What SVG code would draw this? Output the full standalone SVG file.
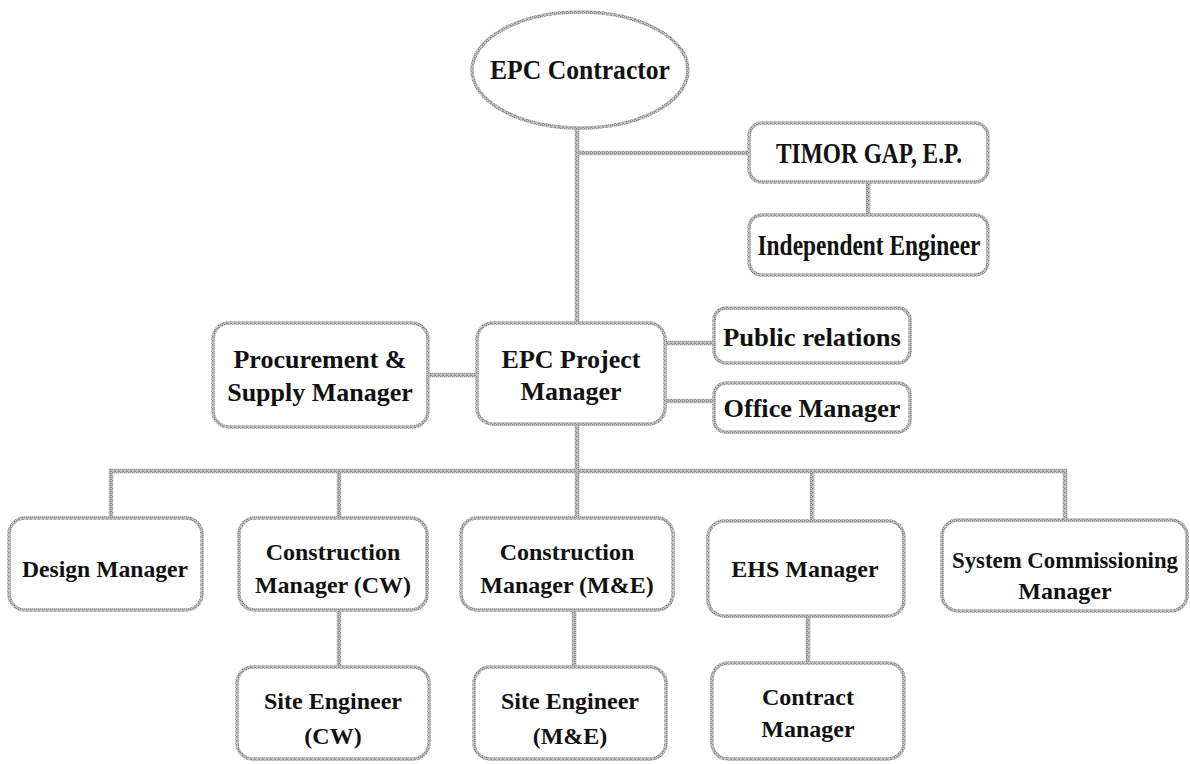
<svg xmlns="http://www.w3.org/2000/svg" width="1190" height="764" viewBox="0 0 1190 764">
  <defs>
    <!-- speckled grey used for every outline and line -->
    <pattern id="grain" width="4" height="4" patternUnits="userSpaceOnUse">
      <rect width="4" height="4" fill="#b4b4b4"/>
      <rect x="0" y="0" width="1" height="1" fill="#8a8a8a"/>
      <rect x="2" y="1" width="1" height="1" fill="#7f7f7f"/>
      <rect x="1" y="2" width="1" height="1" fill="#d0d0d0"/>
      <rect x="3" y="3" width="1" height="1" fill="#8e8e8e"/>
      <rect x="3" y="0" width="1" height="1" fill="#cacaca"/>
      <rect x="0" y="3" width="1" height="1" fill="#c8c8c8"/>
      <rect x="2" y="3" width="1" height="1" fill="#9a9a9a"/>
    </pattern>
  </defs>
  <style>
    .box { fill: #ffffff; stroke: url(#grain); stroke-width: 3.5; }
    .link { fill: none; stroke: url(#grain); stroke-width: 4.5; stroke-linecap: butt; }
    text { font-family: "Liberation Serif", "Times New Roman", serif; font-weight: bold; fill: #111111; text-anchor: middle; }
    .xl { font-size: 29px; }
    .l { font-size: 27px; }
    .m { font-size: 26px; }
    .s { font-size: 24px; }
  </style>
  <rect width="1190" height="764" fill="#ffffff"/>

  <!-- reporting lines -->
  <g id="connectors">
    <path class="link" d="M577 128 V323"/>
    <path class="link" d="M577 153 H749"/>
    <path class="link" d="M868 182 V215"/>
    <path class="link" d="M428 375 H477"/>
    <path class="link" d="M665 343 H714"/>
    <path class="link" d="M665 401 H714"/>
    <path class="link" d="M577 424 V471"/>
    <path class="link" d="M109 471 H1067"/>
    <path class="link" d="M111 469 V518"/>
    <path class="link" d="M339 469 V518"/>
    <path class="link" d="M577 469 V518"/>
    <path class="link" d="M812 469 V521"/>
    <path class="link" d="M1065 469 V520"/>
    <path class="link" d="M339 610 V667"/>
    <path class="link" d="M574 610 V667"/>
    <path class="link" d="M808 616 V663"/>
  </g>

  <g id="epc-contractor">
    <ellipse class="box" cx="580" cy="70" rx="108" ry="58"/>
    <text class="l" x="580" y="79" textLength="180" lengthAdjust="spacingAndGlyphs">EPC Contractor</text>
  </g>

  <g id="timor-gap">
    <rect class="box" x="749" y="123" width="239" height="59" rx="13"/>
    <text class="xl" x="869" y="163" textLength="186" lengthAdjust="spacingAndGlyphs">TIMOR GAP, E.P.</text>
  </g>

  <g id="independent-engineer">
    <rect class="box" x="749" y="215" width="239" height="60" rx="13"/>
    <text class="xl" x="869" y="255" textLength="223" lengthAdjust="spacingAndGlyphs">Independent Engineer</text>
  </g>

  <g id="procurement">
    <rect class="box" x="213" y="323" width="215" height="104" rx="16"/>
    <text class="m" x="320" y="368">Procurement &amp;</text>
    <text class="m" x="320" y="401">Supply Manager</text>
  </g>

  <g id="epc-project-manager">
    <rect class="box" x="477" y="323" width="188" height="101" rx="16"/>
    <text class="m" x="571" y="368">EPC Project</text>
    <text class="m" x="571" y="400">Manager</text>
  </g>

  <g id="public-relations">
    <rect class="box" x="714" y="308" width="196" height="55" rx="12"/>
    <text class="m" x="812" y="346" textLength="178" lengthAdjust="spacingAndGlyphs">Public relations</text>
  </g>

  <g id="office-manager">
    <rect class="box" x="714" y="383" width="196" height="49" rx="12"/>
    <text class="m" x="812" y="417" textLength="177" lengthAdjust="spacingAndGlyphs">Office Manager</text>
  </g>

  <g id="design-manager">
    <rect class="box" x="9" y="518" width="193" height="92" rx="16"/>
    <text class="s" x="105" y="577" textLength="166" lengthAdjust="spacingAndGlyphs">Design Manager</text>
  </g>

  <g id="construction-manager-cw">
    <rect class="box" x="239" y="518" width="188" height="92" rx="16"/>
    <text class="s" x="333" y="560">Construction</text>
    <text class="s" x="333" y="593">Manager (CW)</text>
  </g>

  <g id="construction-manager-me">
    <rect class="box" x="461" y="518" width="212" height="92" rx="16"/>
    <text class="s" x="567" y="560">Construction</text>
    <text class="s" x="567" y="593">Manager (M&amp;E)</text>
  </g>

  <g id="ehs-manager">
    <rect class="box" x="708" y="521" width="196" height="95" rx="16"/>
    <text class="s" x="805" y="577">EHS Manager</text>
  </g>

  <g id="system-commissioning-manager">
    <rect class="box" x="942" y="520" width="245" height="91" rx="16"/>
    <text class="s" x="1065" y="568" textLength="226" lengthAdjust="spacingAndGlyphs">System Commissioning</text>
    <text class="s" x="1065" y="599">Manager</text>
  </g>

  <g id="site-engineer-cw">
    <rect class="box" x="237" y="667" width="192" height="92" rx="16"/>
    <text class="s" x="333" y="709">Site Engineer</text>
    <text class="s" x="333" y="744">(CW)</text>
  </g>

  <g id="site-engineer-me">
    <rect class="box" x="474" y="667" width="192" height="92" rx="16"/>
    <text class="s" x="570" y="709">Site Engineer</text>
    <text class="s" x="570" y="744">(M&amp;E)</text>
  </g>

  <g id="contract-manager">
    <rect class="box" x="712" y="663" width="192" height="96" rx="16"/>
    <text class="s" x="808" y="705">Contract</text>
    <text class="s" x="808" y="737">Manager</text>
  </g>
</svg>
